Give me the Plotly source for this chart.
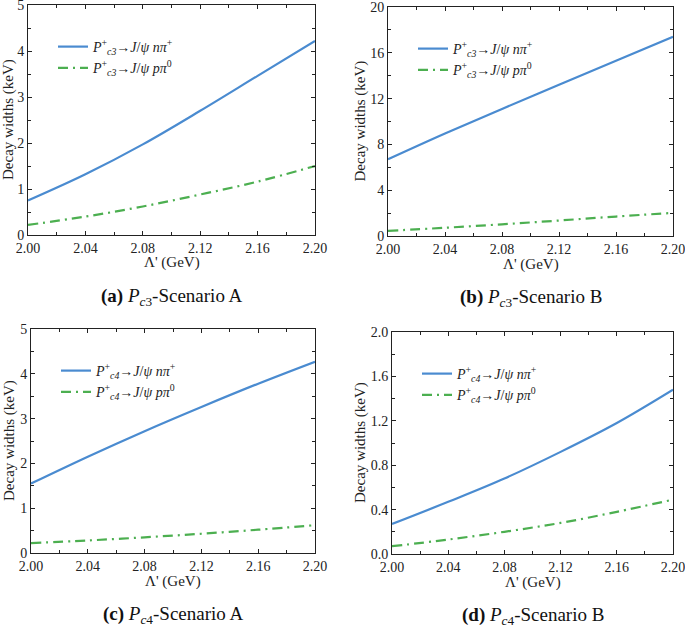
import plotly.graph_objects as go

W, H = 685, 627

lam = [2.00, 2.04, 2.08, 2.12, 2.16, 2.20]

a_npi = [0.75, 1.32, 1.97, 2.70, 3.46, 4.22]
a_ppi = [0.22, 0.40, 0.62, 0.88, 1.16, 1.50]

b_npi = [6.7, 8.95, 11.1, 13.2, 15.3, 17.4]
b_ppi = [0.45, 0.72, 1.02, 1.35, 1.70, 2.02]

c_npi = [1.55, 2.15, 2.72, 3.26, 3.78, 4.27]
c_ppi = [0.22, 0.28, 0.35, 0.43, 0.52, 0.62]

d_npi = [0.27, 0.47, 0.68, 0.92, 1.18, 1.48]
d_ppi = [0.07, 0.13, 0.20, 0.28, 0.38, 0.49]

panels = [
    dict(npi=a_npi, ppi=a_ppi, state="c3", ymax=5, dtick=1, fmt="d",
         box=(28, 315, 5, 235), ytx=8, cap="(a)", scen="A"),
    dict(npi=b_npi, ppi=b_ppi, state="c3", ymax=20, dtick=4, fmt="d",
         box=(388, 673, 7, 236), ytx=360, cap="(b)", scen="B"),
    dict(npi=c_npi, ppi=c_ppi, state="c4", ymax=5, dtick=1, fmt="d",
         box=(31, 315, 329, 553), ytx=9, cap="(c)", scen="A"),
    dict(npi=d_npi, ppi=d_ppi, state="c4", ymax=2.0, dtick=0.4, fmt=".1f",
         box=(392, 673, 332, 554), ytx=360, cap="(d)", scen="B"),
]

BLUE = "#4a8bd0"
GREEN = "#4caf50"
FONT = "Liberation Serif"

fig = go.Figure()
layout = dict(
    width=W, height=H, margin=dict(l=0, r=0, t=0, b=0, autoexpand=False),
    paper_bgcolor="white", plot_bgcolor="white",
    font=dict(family=FONT, size=12, color="#222"),
    annotations=[],
)

for i, p in enumerate(panels, start=1):
    x0, x1, y0, y1 = p["box"]
    xd = [x0 / W, x1 / W]
    yd = [1 - y1 / H, 1 - y0 / H]
    sfx = "" if i == 1 else str(i)
    lg = "legend" if i == 1 else f"legend{i}"
    st = p["state"]
    name1 = f"<i>P</i><sup>+</sup><sub><i>{st}</i></sub>→<i>J</i>/<i>ψ n</i><i>π</i><sup>+</sup>"
    name2 = f"<i>P</i><sup>+</sup><sub><i>{st}</i></sub>→<i>J</i>/<i>ψ p</i><i>π</i><sup>0</sup>"
    fig.add_trace(go.Scatter(x=lam, y=p["npi"], mode="lines", name=name1,
                             line=dict(color=BLUE, width=2.2, shape="spline"),
                             xaxis="x" + sfx, yaxis="y" + sfx, legend=lg))
    fig.add_trace(go.Scatter(x=lam, y=p["ppi"], mode="lines", name=name2,
                             line=dict(color=GREEN, width=2.2, shape="spline",
                                       dash="10px,5px,2px,5px"),
                             xaxis="x" + sfx, yaxis="y" + sfx, legend=lg))
    common = dict(showline=True, linecolor="#222", linewidth=1, mirror="allticks",
                  ticks="inside", ticklen=4, tickcolor="#222", showgrid=False,
                  zeroline=False, automargin=False, ticklabeloverflow="allow",
                  tickfont=dict(family=FONT, size=14, color="#222"))
    layout["xaxis" + sfx] = dict(
        domain=xd, anchor="y" + sfx, range=[2.0, 2.2], dtick=0.04, tick0=2.0,
        tickformat=".2f", ticklabelstandoff=0,
        minor=dict(ticks="inside", ticklen=3, dtick=0.02, tickcolor="#222"),
        **common)
    layout["yaxis" + sfx] = dict(
        domain=yd, anchor="x" + sfx, range=[0, p["ymax"]], dtick=p["dtick"],
        tick0=0, tickformat=p["fmt"],
        minor=dict(ticks="inside", ticklen=3, dtick=p["dtick"] / 2, tickcolor="#222"),
        **common)
    layout[lg] = dict(
        x=(x0 + 25) / W, y=1 - (y0 + 26) / H, xanchor="left", yanchor="top",
        bgcolor="rgba(0,0,0,0)", borderwidth=0, tracegroupgap=0,
        font=dict(family=FONT, size=14, color="#222"), itemwidth=30,
    )
    # x-axis title
    layout["annotations"].append(dict(
        x=(x0 + x1) / 2 / W, y=1 - (y1 + 28) / H, xref="paper", yref="paper",
        xanchor="center", yanchor="middle", showarrow=False,
        text="Λ' (GeV)", font=dict(family=FONT, size=15, color="#222"),
    ))
    # y-axis title
    layout["annotations"].append(dict(
        x=p["ytx"] / W, y=1 - (y0 + y1) / 2 / H, xref="paper", yref="paper",
        xanchor="center", yanchor="middle", showarrow=False, textangle=-90,
        text="Decay widths (keV)", font=dict(family=FONT, size=15, color="#222"),
    ))
    # caption
    layout["annotations"].append(dict(
        x=(x0 + x1) / 2 / W, y=1 - ((y1 + 62) / H), xref="paper", yref="paper",
        xanchor="center", yanchor="middle", showarrow=False,
        text=f"<b>{p['cap']}</b> <i>P</i><sub><i>{st[0]}</i>{st[1]}</sub>-Scenario {p['scen']}",
        font=dict(family=FONT, size=19, color="#111"),
    ))

fig.update_layout(**layout)
fig.write_html("out.html", config={"displayModeBar": False},
               post_script="document.body.style.margin='0';document.body.style.overflow='hidden';")
